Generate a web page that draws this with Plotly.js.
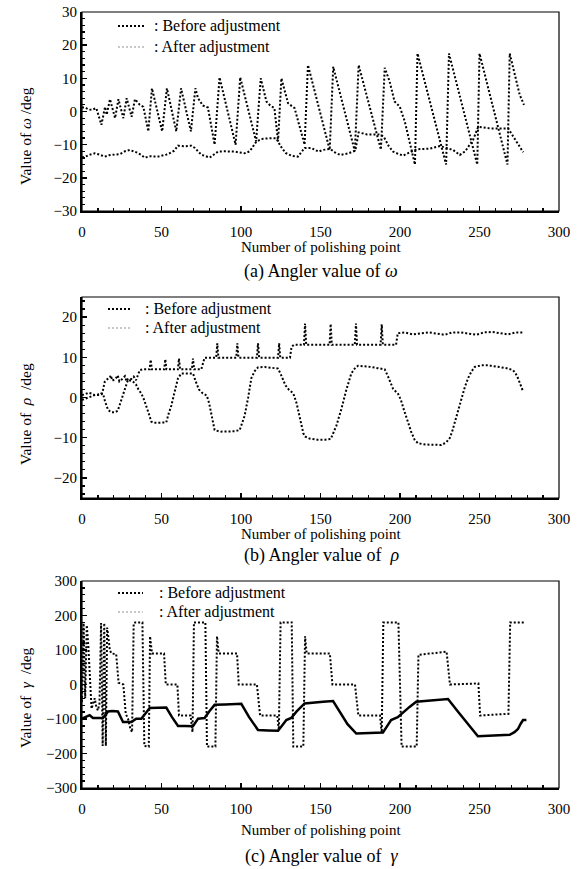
<!DOCTYPE html>
<html><head><meta charset="utf-8">
<script src="https://cdn.plot.ly/plotly-3.0.1.min.js"></script>
<style>html,body{margin:0;padding:0;background:#fff}#chart{width:578px;height:869px}</style>
</head><body><div id="chart"></div>
<script>
// ---------- DATA (x = number of polishing point, y = angle in deg) ----------
const omegaBefore = [[0,1.2],[2,1.2],[4,0.6],[6,0.5],[9,1.0],[11.3,-2.5],[12.2,-4],[14.5,1.4],[15.5,-1],[17.6,3.7],[20.8,-2],[22.9,3.7],[26,-2],[28.1,4],[31.2,-1.6],[33.3,3.7],[36.4,2],[38.6,1.4],[41.7,-6],[44,7],[50.4,-6],[53.4,7],[59.3,-6],[62.3,7],[68.5,-6],[71.3,7],[73,4],[76,1.8],[79.2,1.2],[83.4,-10],[86.5,10.3],[96.6,-10],[99.5,10.3],[109.5,-9],[112.4,10],[116,3],[118,2],[121,1],[123.3,-9],[125.4,10],[129.6,2.5],[133.7,1],[140,-10],[142.1,14],[155.8,-11.6],[158,13.5],[171.6,-12],[174,14],[188,-11.5],[190.4,13.2],[193.5,9],[196.6,3],[199.8,1.5],[203,-3],[209.4,-16],[211,17.5],[229,-16],[230.8,17.5],[248.6,-16],[250,17.5],[267.6,-16],[269,17.5],[272.1,11],[275.3,5],[278,2]];
const omegaAfter = [[0,-13.8],[2.1,-13.6],[5,-13],[8,-12.6],[11,-13],[14.3,-13.6],[17,-13.2],[20.5,-12.9],[24,-12.8],[27,-12],[30,-11.6],[34.2,-12.3],[37,-13],[39.4,-13.9],[43,-13.5],[47.8,-13.6],[50,-13.4],[53,-13],[55,-12.6],[58,-11.8],[60.4,-10.3],[64,-10.5],[68.8,-10.3],[71,-11],[75,-13],[80.3,-13.9],[85.5,-12.1],[90,-12],[96,-12.1],[99,-12.3],[102.3,-12.6],[105.5,-12],[109.6,-9.1],[112.8,-8.3],[117,-8.1],[122.2,-8.1],[125,-10.5],[128,-12.5],[132,-13.4],[135.8,-13.6],[140,-11],[144.2,-11],[148.8,-12.1],[151.3,-11.6],[156.1,-11.3],[159,-12.3],[162.4,-13.1],[167.7,-12.6],[171.9,-11.8],[174,-6.3],[179.2,-6.9],[186.6,-6.9],[189.7,-7.5],[193,-10.5],[195.7,-12.1],[199,-12.8],[202,-13.3],[206.2,-12.3],[210.4,-11.4],[214,-11.3],[218.8,-11.2],[225.1,-10.4],[229,-11],[233.4,-11.6],[237.6,-13.1],[241,-12],[246,-8.5],[249.2,-4.6],[256.5,-5.1],[262,-5.1],[268,-5.1],[273.3,-9.1],[277.5,-12.3]];

const rhoBefore = [[0,-0.6],[2,-0.3],[5,0.2],[8,0.6],[11,0.8],[13.2,1],[14.5,-1],[16.4,-3.1],[18.5,-3.7],[20.5,-3.7],[22.5,-3.3],[24,-1.5],[25.8,0.6],[27.5,3],[28.9,4.4],[32,4],[34,3.2],[35.5,2],[37.3,1],[39,-0.5],[40.5,-2],[42,-4],[43.6,-6],[45,-6.3],[48,-6.3],[51,-6.3],[53,-6.2],[54.5,-4],[56.2,-2],[58,1],[60.4,4.8],[62.5,6],[66,6],[69.8,6],[71.5,4],[73.5,2],[76,1],[78.5,0.5],[80,-1.5],[81.4,-4.5],[83.4,-8.1],[87,-8.5],[92,-8.5],[96,-8.4],[99.2,-8.1],[100.8,-6.5],[102.3,-4.5],[104.5,0],[106.5,4.8],[108.5,6.5],[110.7,7.5],[115,7.6],[120,7.4],[123.3,7.2],[125,5.8],[126.5,4.4],[128,3],[130,2],[132.9,1],[135,-1.5],[137.1,-5.6],[139.2,-8.9],[140.3,-9.7],[143,-10.2],[148,-10.5],[153,-10.5],[156.5,-10.3],[158.3,-8.5],[160,-7],[163.1,-2.9],[166.3,2],[169.4,6],[171.5,7.2],[173.6,7.9],[178,7.8],[182,7.6],[186,7.3],[190.4,7],[192.5,5.2],[195.6,2.2],[198.8,0.9],[200.5,-0.5],[202,-2.5],[205.1,-6.2],[207,-8.5],[209.3,-10.6],[211.4,-11.4],[216,-11.7],[221,-11.8],[226,-11.8],[229,-11.2],[231.3,-10.1],[232.8,-8.5],[234.4,-6.2],[236.5,-3.5],[238.6,-0.4],[240.7,2.5],[242.8,4.8],[245,6.5],[247,7.6],[251,8],[255.4,8],[259.5,7.8],[263.7,7.6],[267,7.3],[271.1,6.8],[272.7,6],[274.2,4.8],[275.8,3],[277.4,1.5]];
const rhoAfter = [[0,0.6],[2,0.8],[4,1.2],[6,1.0],[8,0.6],[10,0.6],[12,0.8],[13.2,1.9],[14.3,3.9],[16,4.6],[17.4,4.9],[18.2,5.5],[19,4.2],[21,4.6],[22.5,5.5],[23.5,4],[25,4.5],[27,5.3],[28,4],[29,4.6],[31,4.6],[32.5,5.2],[34,4.3],[36.3,6.8],[38,7],[41.5,7],[42.5,7],[43.2,9.4],[43.9,7],[46,7],[50,7],[51.7,7],[52.4,9.5],[53.1,7],[56,7],[60.3,7],[61,9.7],[61.7,7],[64,7],[69.1,7],[69.8,9.7],[70.5,7],[73,7],[75,7],[77.1,9.9],[80,9.9],[84.4,9.9],[85.1,13.5],[85.8,9.9],[90,9.9],[97,9.9],[97.7,13.5],[98.4,9.9],[105,9.9],[110,9.9],[110.7,13.5],[111.4,9.9],[118,9.9],[123.3,9.9],[124,13.5],[124.7,9.9],[130.8,9.9],[131.8,12.6],[133.3,13.1],[137,13.1],[139.6,13.1],[140.3,18.4],[141,13.1],[146,13.1],[151,13.1],[155.7,13.1],[156.4,18.3],[157.1,13.1],[163,13.1],[171.6,13.1],[172.3,18.4],[173,13.1],[180,13.1],[187.8,13.1],[188.5,18.2],[189.2,13.1],[194,13.1],[197.5,13.1],[198.6,16],[203,16.2],[208,15.7],[213,15.9],[218,16.2],[223,15.9],[228,15.6],[233,16.2],[238,16.2],[243,15.9],[248,15.6],[253,16.2],[258,16.3],[263,16],[268,15.7],[273,16.2],[278,16.2]];

const gammaBefore = [[0,-50],[1,178],[2,-40],[3,172],[4,110],[5,20],[6,-70],[7,-55],[8,-40],[9,-65],[10,-75],[11,-55],[12,178],[13,-178],[14,178],[15,-178],[15.8,165],[16.5,140],[17.5,100],[18.5,90],[21.5,88],[23,5],[26,0],[27.5,-85],[29,-100],[30.5,-130],[31.5,-138],[32.5,178],[33.5,180],[38,180],[39.2,-178],[42,-180],[42.8,140],[44,90],[51.6,90],[52.7,0],[60,0],[61,-90],[68.3,-90],[69.5,-138],[70.4,180],[77.6,180],[78.6,-180],[83.9,-180],[84.9,140],[86,90],[97.5,90],[98.6,0],[110,0],[112,-90],[122.8,-90],[123.8,-132],[124.9,180],[131.9,180],[132.9,-180],[139.2,-180],[140.3,140],[141.3,90],[155.9,90],[157.5,0],[171.7,0],[173.8,-90],[187.4,-90],[188.5,-140],[189.5,180],[199,180],[201,-180],[210.5,-180],[211.6,86],[229.3,95],[231.4,0],[249.3,3],[250.4,-90],[268.2,-85],[269.3,180],[278.8,180]];
const gammaAfter = [[0,-99],[2,-95],[4.8,-89],[6.9,-97],[10,-97],[13.2,-97],[16.4,-78],[19,-77],[22.6,-78],[25.8,-109],[28,-109],[31,-109],[34.1,-99],[37.3,-99],[42.6,-68],[48,-67],[53,-67],[56.5,-94],[60.4,-120],[65,-120],[69.8,-121],[73,-99],[77.1,-97],[80,-78],[83.4,-59],[90,-58],[95,-57],[100.2,-56],[105,-94],[110.7,-132],[117,-133],[123.3,-134],[126,-118],[128.5,-103],[131.6,-97],[135,-78],[140,-55],[145,-52],[151.6,-50],[157.9,-48],[162,-80],[167,-115],[172.5,-142],[180,-141],[189.3,-139],[192,-120],[194.4,-103],[198.6,-95],[202,-80],[206,-65],[210.2,-50],[220,-46],[230.2,-42],[236.5,-79],[243,-115],[249,-150],[259,-148],[269,-146],[272,-138],[274.2,-129],[276,-113],[277.4,-103],[279.5,-103]];

const xTickVals = [0, 50, 100, 150, 200, 250, 300];
const panelTitles = ['Value of <i>ω</i> /deg', 'Value of  <i>ρ</i>  /deg', 'Value of  <i>γ</i>  /deg'];
const captions = ['(a) Angler value of <i>ω</i>', '(b) Angler value of  <i>ρ</i>', '(c) Angler value of  <i>γ</i>'];
const legendLabels = [': Before adjustment', ': After adjustment'];
const xTitle = 'Number of polishing point';

// ---------- LAYOUT HELPERS ----------
const W = 578, H = 869;
const px = v => v / W, py = v => 1 - v / H;
const FONT = 'Liberation Serif, Times New Roman, serif';
const xs = p => p.map(d => d[0]), ys = p => p.map(d => d[1]);

const panels = [
  {top: 12, bottom: 211, range: [-30, 30], dtick: 10, minor: 2, a: omegaBefore, b: omegaAfter, bSolid: false,
   leg: {x0: 118, x1: 145, txt: 152, y1: 26, y2: 47}, ytitle: 136, xt: 247.5, cap: 271},
  {top: 297, bottom: 498, range: [-25, 25], dtick: 10, minor: 2, a: rhoBefore, b: rhoAfter, bSolid: false,
   leg: {x0: 108, x1: 130, txt: 143, y1: 309, y2: 328}, ytitle: 414, xt: 534, cap: 555},
  {top: 581, bottom: 788, range: [-300, 300], dtick: 100, minor: 20, a: gammaBefore, b: gammaAfter, bSolid: true,
   leg: {x0: 118, x1: 143, txt: 157, y1: 593, y2: 612}, ytitle: 697, xt: 830, cap: 856}
];

const data = [], shapes = [], annotations = [];
const layout = {
  width: W, height: H, margin: {l: 0, r: 0, t: 0, b: 0},
  paper_bgcolor: '#fff', plot_bgcolor: '#fff', showlegend: false,
  font: {family: FONT, color: '#000'}
};

panels.forEach((p, i) => {
  const n = i === 0 ? '' : String(i + 1);
  const xa = 'x' + n, ya = 'y' + n;
  layout['xaxis' + n] = {
    domain: [px(82), px(559)], anchor: ya, range: [0, 300], tickvals: xTickVals,
    ticks: 'inside', ticklen: 5, tickwidth: 1.5, tickcolor: '#000',
    minor: {dtick: 10, ticks: 'inside', ticklen: 3, tickwidth: 1.2, tickcolor: '#000'},
    showline: true, linewidth: 2, linecolor: '#000', mirror: false,
    showgrid: false, zeroline: false, ticklabelstandoff: 6,
    tickfont: {family: FONT, size: 15, color: '#000'}
  };
  layout['yaxis' + n] = {
    domain: [py(p.bottom), py(p.top)], anchor: xa, range: p.range, dtick: p.dtick,
    ticks: 'inside', ticklen: 5, tickwidth: 1.5, tickcolor: '#000',
    minor: {dtick: p.minor, ticks: 'inside', ticklen: 3, tickwidth: 1.2, tickcolor: '#000'},
    showline: true, linewidth: 2, linecolor: '#000', mirror: false,
    showgrid: false, zeroline: false,
    tickfont: {family: FONT, size: 15, color: '#000'}
  };
  data.push({x: xs(p.a), y: ys(p.a), xaxis: xa, yaxis: ya, mode: 'lines', type: 'scatter',
    line: {color: '#000', width: 2, dash: '2px,2px'}, hoverinfo: 'skip'});
  data.push({x: xs(p.b), y: ys(p.b), xaxis: xa, yaxis: ya, mode: 'lines', type: 'scatter',
    line: p.bSolid ? {color: '#000', width: 2.5} : {color: '#000', width: 2, dash: '2px,2px'}, hoverinfo: 'skip'});
  // frame
  shapes.push({type: 'rect', xref: xa + ' domain', yref: ya + ' domain', x0: 0, x1: 1, y0: 0, y1: 1,
    line: {color: '#000', width: 1.2}, fillcolor: 'rgba(0,0,0,0)', layer: 'above'});
  // legend samples
  const L = p.leg;
  shapes.push({type: 'line', xref: 'paper', yref: 'paper', x0: px(L.x0), x1: px(L.x1), y0: py(L.y1), y1: py(L.y1),
    line: {color: '#000', width: 2, dash: '2px,2px'}});
  shapes.push({type: 'line', xref: 'paper', yref: 'paper', x0: px(L.x0), x1: px(L.x1), y0: py(L.y2), y1: py(L.y2),
    line: {color: '#b5b5b5', width: 1.5, dash: '2px,2px'}});
  annotations.push({xref: 'paper', yref: 'paper', x: px(L.txt), y: py(L.y1), xanchor: 'left', yanchor: 'middle',
    text: legendLabels[0], showarrow: false, font: {family: FONT, size: 16, color: '#000'}});
  annotations.push({xref: 'paper', yref: 'paper', x: px(L.txt), y: py(L.y2), xanchor: 'left', yanchor: 'middle',
    text: legendLabels[1], showarrow: false, font: {family: FONT, size: 16, color: '#000'}});
  // y title
  annotations.push({xref: 'paper', yref: 'paper', x: px(25), y: py(p.ytitle), xanchor: 'center', yanchor: 'middle',
    textangle: -90, text: panelTitles[i], showarrow: false, font: {family: FONT, size: 15.5, color: '#000'}});
  // x title
  annotations.push({xref: 'paper', yref: 'paper', x: px(321), y: py(p.xt), xanchor: 'center', yanchor: 'middle',
    text: xTitle, showarrow: false, font: {family: FONT, size: 15, color: '#000'}});
  // caption
  annotations.push({xref: 'paper', yref: 'paper', x: px(321), y: py(p.cap), xanchor: 'center', yanchor: 'middle',
    text: captions[i], showarrow: false, font: {family: FONT, size: 18, color: '#000'}});
});
layout.shapes = shapes;
layout.annotations = annotations;

Plotly.newPlot('chart', data, layout, {displayModeBar: false, staticPlot: true});
</script></body></html>
